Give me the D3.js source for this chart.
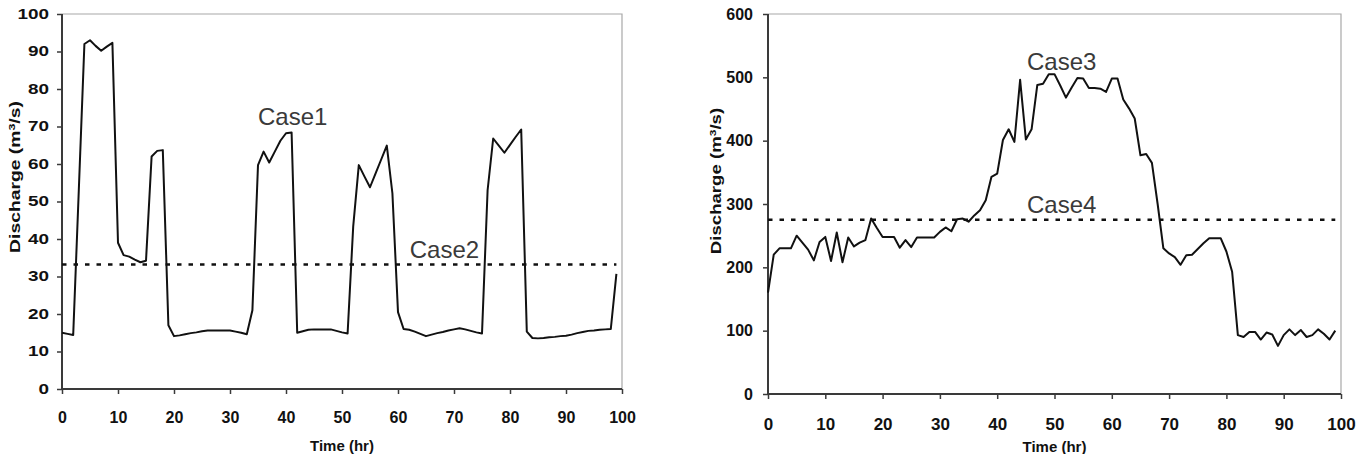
<!DOCTYPE html>
<html>
<head>
<meta charset="utf-8">
<script src="https://cdn.jsdelivr.net/npm/d3@7"></script>
<style>
  body { margin: 0; background: #fff; }
  svg { display: block; }
</style>
</head>
<body>
<svg width="1356" height="454"></svg>
<script>
// hourly time steps
const hours = d3.range(0, 100);

// Case1 discharge (m3/s)
const case1 = [
  15, 14.7, 14.4, 53, 92, 93, 91.5, 90.2, 91.3, 92.3,
  39, 35.7, 35.3, 34.5, 33.8, 34.2, 62, 63.5, 63.7, 17,
  14.1, 14.3, 14.6, 14.9, 15.1, 15.4, 15.6, 15.6, 15.6, 15.6,
  15.6, 15.3, 15, 14.6, 21, 59.7, 63.3, 60.4, 63.3, 66.2,
  68.2, 68.4, 15, 15.4, 15.8, 15.9, 15.9, 15.9, 15.9, 15.5,
  15.1, 14.8, 43.3, 59.7, 56.7, 53.8, 57.5, 61.2, 64.9, 52.2,
  20.5, 16, 15.8, 15.3, 14.7, 14.1, 14.5, 14.9, 15.2, 15.6,
  15.9, 16.2, 15.9, 15.5, 15.1, 14.8, 53, 66.8, 64.9, 63,
  65.1, 67.2, 69.2, 15.3, 13.6, 13.5, 13.6, 13.8, 13.9, 14.1,
  14.2, 14.5, 14.9, 15.2, 15.5, 15.6, 15.8, 15.9, 16, 30.7
];
// Case2 constant discharge
const case2 = [{t: 0, v: 33.2}, {t: 99, v: 33.2}];

// Case3 discharge (m3/s)
const case3 = [
  160, 220, 230, 230, 230, 250, 239, 228, 211, 240,
  248, 210, 255, 208, 247, 233, 239, 243, 277, 262,
  248, 248, 248, 231, 243, 232, 247, 247, 247, 247,
  256, 263, 257, 276, 277, 272, 282, 290, 306, 343,
  348, 401, 418, 398, 496, 402, 418, 488, 490, 505,
  505, 487, 468, 484, 499, 498, 483, 483, 482, 477,
  498, 498, 465, 451, 435, 377, 379, 365, 300, 230,
  222, 216, 204, 219, 220, 229, 238, 246, 246, 246,
  225, 193, 93, 90, 98, 98, 86, 97, 94, 76,
  93, 102, 93, 101, 90, 93, 102, 95, 86, 100
];
// Case4 constant discharge
const case4 = [{t: 0, v: 275}, {t: 99, v: 275}];

const xTicks = [0, 10, 20, 30, 40, 50, 60, 70, 80, 90, 100];
const yTicksLeft = [0, 10, 20, 30, 40, 50, 60, 70, 80, 90, 100];
const yTicksRight = [0, 100, 200, 300, 400, 500, 600];

const leftLabels = [{text: "Case1", t: 35, v: 70.4}, {text: "Case2", t: 62.1, v: 34.9}];
const rightLabels = [{text: "Case3", t: 45.2, v: 511}, {text: "Case4", t: 45.2, v: 286}];

const svg = d3.select("svg");

function drawPanel(cfg) {
    const x = d3.scaleLinear().domain([0, 100]).range([cfg.x0, cfg.x1]);
    const y = d3.scaleLinear().domain([0, cfg.yMax]).range([cfg.y0, cfg.y1]);
    const g = svg.append("g");

    // light frame on top and right
    g.append("path")
        .attr("d", `M${cfg.x0},${cfg.y1}H${cfg.x1}V${cfg.y0}`)
        .attr("fill", "none")
        .attr("stroke", "#a8a8a8")
        .attr("stroke-width", 1.2);

    const yAxis = g.append("g")
        .attr("transform", `translate(${cfg.x0},0)`)
        .call(d3.axisLeft(y).tickValues(cfg.yTicks).tickSize(5).tickPadding(cfg.yPad).tickFormat(d3.format("d")));
    yAxis.selectAll("text")
        .attr("transform", `scale(${cfg.yStretch},1)`)
        .style("font-size", cfg.yFont + "px");

    const xAxis = g.append("g")
        .attr("transform", `translate(0,${cfg.y0})`)
        .call(d3.axisBottom(x).tickValues(xTicks).tickSize(5).tickPadding(cfg.xPad).tickFormat(d3.format("d")));
    xAxis.selectAll("text").style("font-size", cfg.xFont + "px");

    [yAxis, xAxis].forEach(a => {
        a.select(".domain").attr("stroke", "#3a3a3a").attr("stroke-width", 2);
        a.selectAll(".tick line").attr("stroke", "#3a3a3a").attr("stroke-width", 1.5);
        a.selectAll("text")
            .attr("fill", "#111")
            .style("font-family", "'Liberation Sans', Arial, sans-serif")
            .style("font-weight", "bold");
    });
    // the domain path of an axis has outer ticks; drop them
    yAxis.select(".domain").attr("d", `M0,${cfg.y0}V${cfg.y1}`);
    xAxis.select(".domain").attr("d", `M${cfg.x0},0H${cfg.x1}`);

    // axis titles
    g.append("text")
        .attr("transform", `translate(${(cfg.x0 + cfg.x1) / 2},${cfg.xTitleY})`)
        .attr("text-anchor", "middle")
        .style("font-family", "'Liberation Sans', Arial, sans-serif")
        .style("font-weight", "bold")
        .style("font-size", "15px")
        .attr("fill", "#111")
        .text("Time (hr)");

    const yt = g.append("text")
        .attr("transform", `translate(${cfg.yTitleX},${cfg.yTitleY}) rotate(-90) scale(${cfg.yTitleStretch},1)`)
        .attr("text-anchor", "middle")
        .style("font-family", "'Liberation Sans', Arial, sans-serif")
        .style("font-weight", "bold")
        .style("font-size", "14px")
        .attr("fill", "#111");
    yt.append("tspan").text("Discharge (m");
    yt.append("tspan").attr("dy", -5).style("font-size", "9px").text("3");
    yt.append("tspan").attr("dy", 5).text("/s)");

    const line = d3.line().x(d => x(d.t)).y(d => y(d.v));

    // constant case, dotted
    g.append("path")
        .datum(cfg.flat)
        .attr("d", line)
        .attr("fill", "none")
        .attr("stroke", "#111")
        .attr("stroke-width", 2.5)
        .attr("stroke-dasharray", "4.5,7");

    // time series case
    g.append("path")
        .datum(cfg.series.map((v, i) => ({t: hours[i], v: v})))
        .attr("d", line)
        .attr("fill", "none")
        .attr("stroke", "#111")
        .attr("stroke-width", 2)
        .attr("stroke-linejoin", "round");

    g.selectAll(".case-label")
        .data(cfg.labels)
        .enter().append("text")
        .attr("class", "case-label")
        .attr("x", d => x(d.t))
        .attr("y", d => y(d.v))
        .style("font-family", "'Liberation Sans', Arial, sans-serif")
        .style("font-size", "24px")
        .attr("fill", "#3a3a3a")
        .text(d => d.text);
}

drawPanel({
    x0: 62, x1: 622, y0: 389, y1: 14, yMax: 100,
    yTicks: yTicksLeft, yPad: 4.6, yStretch: 1.35, yFont: 14,
    xPad: 17.5, xFont: 16,
    xTitleY: 450.5, yTitleX: 20, yTitleY: 177, yTitleStretch: 1.38,
    series: case1, flat: case2, labels: leftLabels
});

drawPanel({
    x0: 768, x1: 1341, y0: 394, y1: 14, yMax: 600,
    yTicks: yTicksRight, yPad: 10, yStretch: 1.0, yFont: 16,
    xPad: 18.5, xFont: 17,
    xTitleY: 452, yTitleX: 721, yTitleY: 181, yTitleStretch: 1.33,
    series: case3, flat: case4, labels: rightLabels
});
</script>
</body>
</html>
